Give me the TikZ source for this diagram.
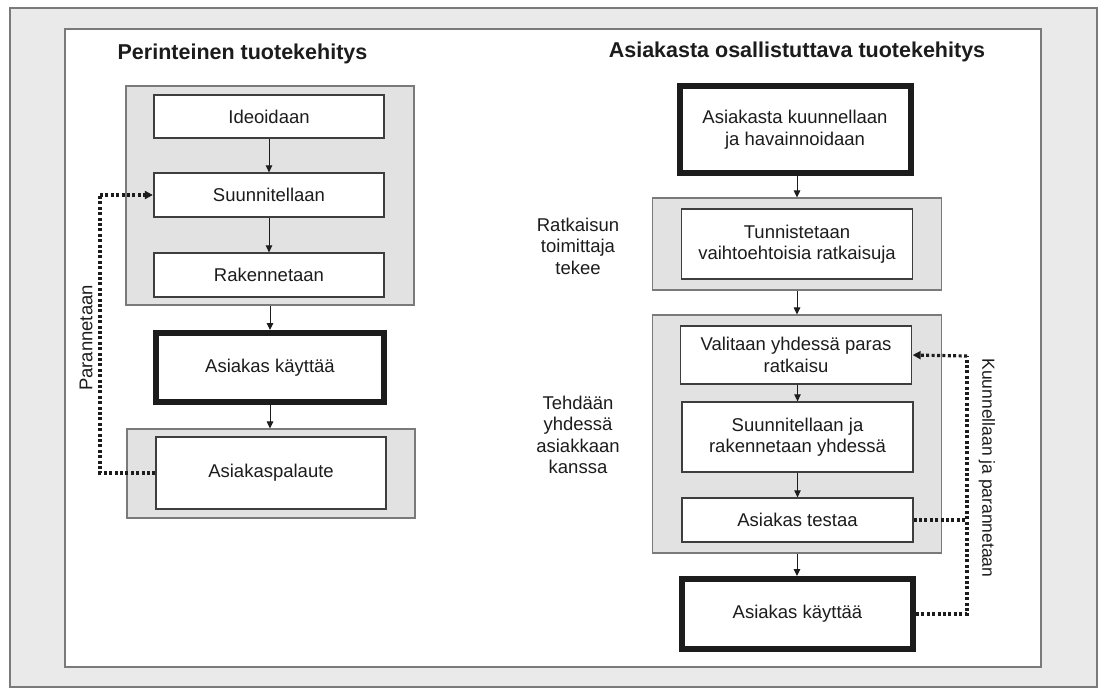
\documentclass[tikz,border=0pt]{standalone}
\usepackage{fontspec}
\setmainfont{Liberation Sans}
\usetikzlibrary{arrows.meta,calc}
\definecolor{band}{HTML}{EAEAEA}
\definecolor{panel}{HTML}{E2E2E2}
\definecolor{frameline}{HTML}{7A7A7A}
\definecolor{ink}{HTML}{1C1C1C}
\tikzset{
  bodyfont/.style={font=\fontsize{18.5}{21.5}\selectfont},
  titlefont/.style={font=\fontsize{21.5}{25}\selectfont\bfseries},
  panelbox/.style={draw=frameline, fill=panel, line width=1.1pt, inner sep=0pt},
  stepbox/.style={draw=ink!85, fill=white, line width=1.3pt, inner sep=2pt,
    align=center, text=ink, bodyfont},
  keybox/.style={draw=ink, fill=white, line width=6pt, inner sep=2pt,
    align=center, text=ink, bodyfont},
  flow/.style={draw=ink, line width=1pt, -{Triangle[length=7pt,width=6.5pt]}},
  loopline/.style={draw=ink, line width=3.2pt, dash pattern=on 3pt off 2.4pt},
  looptip/.style={-{Triangle[length=8pt,width=8pt,sep=0.5pt]}},
  sidetext/.style={align=center, text=ink, bodyfont},
}
\begin{document}
\begin{tikzpicture}[x=1pt, y=-1pt]
  % canvas and the framed mount
  \useasboundingbox (0,0) rectangle (1113,691);
  \fill[white] (0,0) rectangle (1113,691);
  \filldraw[fill=band, draw=frameline, line width=1.3pt] (10,8) rectangle (1097,687);
  \filldraw[fill=white, draw=frameline, line width=1.1pt] (65,29) rectangle (1041,667);

  % ---------------- left column: traditional development
  \node[titlefont, text=ink, anchor=base] (ltitle) at (242.5,59) {Perinteinen tuotekehitys};

  \node[panelbox, minimum width=288, minimum height=219] (lpanel1) at (270,195.5) {};
  \node[stepbox, minimum width=230, minimum height=43] (idea) at (269,116.5) {Ideoidaan};
  \node[stepbox, minimum width=230, minimum height=44] (suun) at (269,195) {Suunnitellaan};
  \node[stepbox, minimum width=230, minimum height=44] (rak) at (269,275) {Rakennetaan};

  \node[keybox, minimum width=228, minimum height=69] (kay1) at (270,367.5) {Asiakas käyttää};

  \node[panelbox, minimum width=288, minimum height=89] (lpanel2) at (271,473.5) {};
  \node[stepbox, minimum width=230, minimum height=72] (palaute) at (271,473) {Asiakaspalaute};

  \draw[flow] (idea) -- (suun);
  \draw[flow] (suun) -- (rak);
  \draw[flow] (lpanel1.south -| kay1.north) -- (kay1.north);
  \draw[flow] (kay1.south) -- (lpanel2.north -| kay1.south);

  % feedback loop back to design
  \coordinate (lbend) at (100,195);
  \draw[loopline] (palaute.west) -| (lbend);
  \draw[loopline, looptip] (lbend) -- (suun.west);
  \node[sidetext, rotate=90] (lloop) at (86,338) {Parannetaan};

  % ---------------- right column: customer-involving development
  \node[titlefont, text=ink, anchor=base] (rtitle) at (797,57) {Asiakasta osallistuttava tuotekehitys};

  \node[keybox, minimum width=231, minimum height=87] (kuun) at (795,129.5)
    {Asiakasta kuunnellaan\\ja havainnoidaan};

  \node[panelbox, minimum width=289, minimum height=92] (rpanel1) at (797,244) {};
  \node[stepbox, minimum width=231, minimum height=70] (tunn) at (797,244)
    {Tunnistetaan\\vaihtoehtoisia ratkaisuja};

  \node[panelbox, minimum width=289, minimum height=238] (rpanel2) at (797,434) {};
  \node[stepbox, minimum width=231, minimum height=58] (vali) at (796,355)
    {Valitaan yhdessä paras\\ratkaisu};
  \node[stepbox, minimum width=231, minimum height=70] (suun2) at (797.5,437)
    {Suunnitellaan ja\\rakennetaan yhdessä};
  \node[stepbox, minimum width=231, minimum height=44] (testaa) at (797.5,520)
    {Asiakas testaa};

  \node[keybox, minimum width=231, minimum height=70] (kay2) at (797.5,614)
    {Asiakas käyttää};

  \draw[flow] (kuun.south -| rpanel1.north) -- (rpanel1.north);
  \draw[flow] (rpanel1.south) -- (rpanel2.north);
  \draw[flow] (vali.south -| suun2.north) -- (suun2.north);
  \draw[flow] (suun2) -- (testaa);
  \draw[flow] (rpanel2.south) -- (kay2.north -| rpanel2.south);

  % listening and improving loop
  \coordinate (rbend) at (967,356);
  \draw[loopline] (kay2.east) -| (rbend);
  \draw[loopline, looptip] (rbend) -- (vali.east);
  \draw[loopline] (testaa.east) -- (testaa.east -| rbend);
  \node[sidetext, rotate=-90, font=\fontsize{17.5}{21}\selectfont] (rloop) at (987,468)
    {Kuunnellaan ja parannetaan};

  % who does each phase
  \node[sidetext] (who1) at (578,246) {Ratkaisun\\toimittaja\\tekee};
  \node[sidetext] (who2) at (578,435) {Tehdään\\yhdessä\\asiakkaan\\kanssa};
\end{tikzpicture}
\end{document}
